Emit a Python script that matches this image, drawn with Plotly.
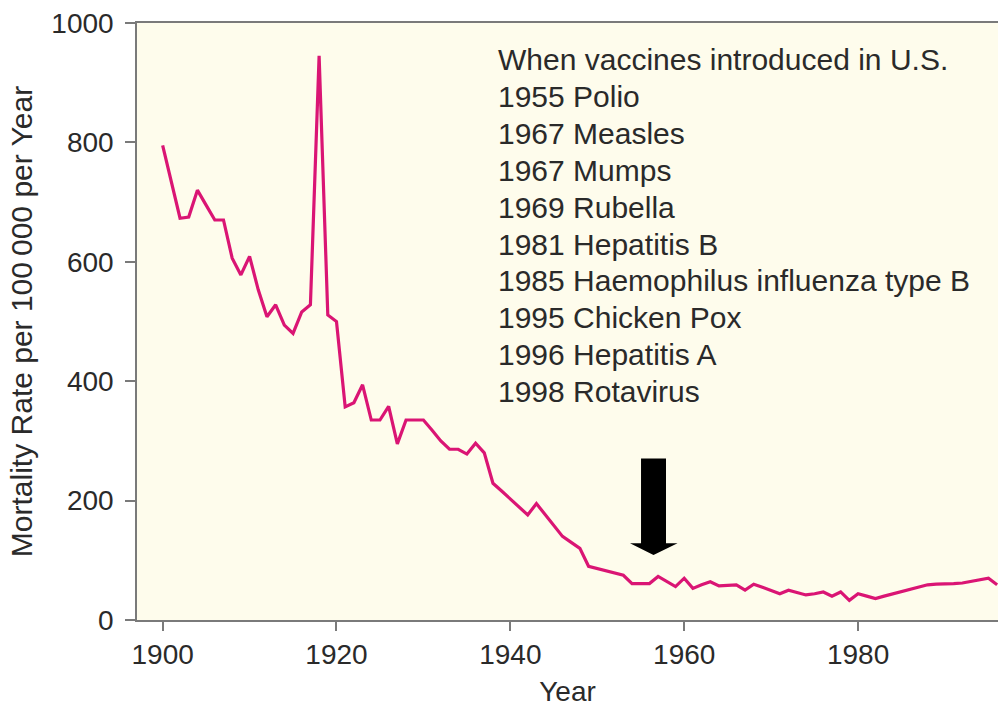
import plotly.graph_objects as go

years = list(range(1900, 1997))
rate = [795, 733, 673, 675, 720, 695, 670, 670, 606, 578,
        609, 553, 508, 528, 494, 480, 516, 528, 945, 511,
        500, 357, 364, 394, 335, 335, 358, 295, 335, 335,
        335, 318, 300, 286, 286, 278, 296, 280, 229, 216,
        203, 189, 176, 195, 177, 158, 140, 130, 120, 90,
        86, 82, 79, 75, 61, 61, 61, 73, 64, 56,
        70, 53, 59, 64, 57, 58, 59, 50, 60, 55,
        49, 44, 50, 46, 42, 44, 47, 40, 47, 33,
        44, 40, 36, 40, 44, 48, 52, 56, 59, 60,
        60, 61, 62, 65, 67, 70, 59]

x_ticks = [1900, 1920, 1940, 1960, 1980]
y_ticks = [0, 200, 400, 600, 800, 1000]

legend_title = "When vaccines introduced in U.S."
vaccines = ["1955 Polio", "1967 Measles", "1967 Mumps", "1969 Rubella",
            "1981 Hepatitis B", "1985 Haemophilus influenza type B",
            "1995 Chicken Pox", "1996 Hepatitis A", "1998 Rotavirus"]

FONT = "Liberation Sans, Arial, Helvetica, sans-serif"
AXIS = "#7a7a7a"
TEXT = "#2a2a2a"

fig = go.Figure()
fig.add_trace(go.Scatter(x=years, y=rate, mode="lines",
                         line=dict(color="#DA1574", width=3.2),
                         hoverinfo="x+y"))

# plot geometry (pixels) for paper-coordinate annotations
W, H = 998, 708
L, R, T, B = 137, 0, 23, 88
pw, ph = W - L - R, H - T - B

def px(x):
    return (x - L) / pw

def py(y):
    return (H - B - y) / ph

lines = [legend_title] + vaccines
annotations = []
for i, t in enumerate(lines):
    annotations.append(dict(text=t, xref="paper", yref="paper",
                            x=px(496), y=py(60 + i * 36.8),
                            xanchor="left", yanchor="middle",
                            showarrow=False,
                            font=dict(family=FONT, size=30, color=TEXT)))

# black block arrow
ax = [641, 666, 666, 677.5, 653.5, 630, 641]
ay = [458.5, 458.5, 543.3, 543.3, 555, 543.3, 543.3]
path = "M " + " L ".join(f"{px(a):.4f},{py(b):.4f}" for a, b in zip(ax, ay)) + " Z"
shapes = [dict(type="path", xref="paper", yref="paper", path=path,
               fillcolor="black", line=dict(width=0))]

fig.update_layout(
    width=W, height=H,
    margin=dict(l=L, r=R, t=T, b=B),
    paper_bgcolor="white",
    plot_bgcolor="#FEFCEC",
    showlegend=False,
    font=dict(family=FONT, color=TEXT),
    annotations=annotations,
    shapes=shapes,
    xaxis=dict(range=[1897.05, 1996.1], tickvals=x_ticks,
               ticks="outside", ticklen=9, tickwidth=1.5, tickcolor=AXIS,
               showline=True, linecolor=AXIS, linewidth=1.5, mirror=True,
               showgrid=False, zeroline=False,
               tickfont=dict(size=28, color=TEXT),
               title=dict(text="Year", font=dict(size=28, color=TEXT), standoff=12)),
    yaxis=dict(range=[0, 1000], tickvals=y_ticks,
               ticks="outside", ticklen=10, tickwidth=1.5, tickcolor=AXIS,
               showline=True, linecolor=AXIS, linewidth=1.5,
               showgrid=False, zeroline=False,
               tickfont=dict(size=28, color=TEXT), ticklabelstandoff=6,
               title=dict(text="Mortality Rate per 100\u2009000 per Year",
                          font=dict(size=30, color=TEXT), standoff=10)),
)

fig.write_html("out.html",
               config={"displayModeBar": False},
               post_script="document.body.style.margin='0';"
                           "document.body.style.overflow='hidden';")
